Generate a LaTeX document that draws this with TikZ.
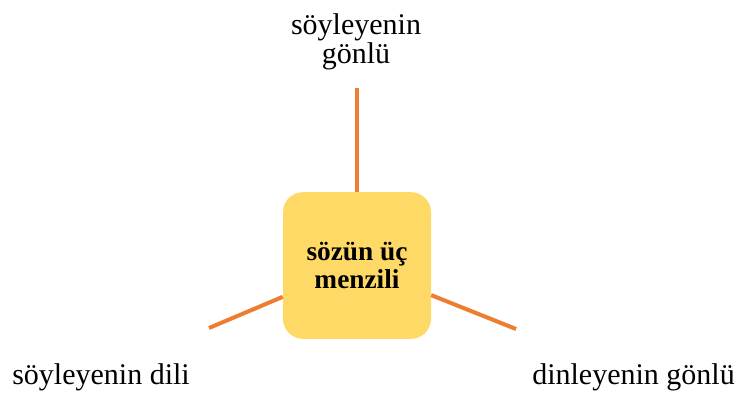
\documentclass[tikz,border=0pt]{standalone}
\usepackage{fontspec}
\setmainfont{Liberation Serif}
\usetikzlibrary{positioning}
\definecolor{menzilfill}{HTML}{FFD966}
\definecolor{linkorange}{HTML}{ED7D31}

\begin{document}
\begin{tikzpicture}[x=0.75pt,y=-0.75pt,
  label/.style={inner sep=0pt, font=\fontsize{22.5}{22}\selectfont, align=center},
  link/.style={draw=linkorange, line width=3pt}]
  \useasboundingbox (0,0) rectangle (738,398);

  \node[fill=menzilfill, rounded corners=15pt, minimum width=111pt, minimum height=110pt,
        align=center, font=\fontsize{20.5}{22.5}\selectfont\bfseries] (menzil) at (357,265.5) {\raisebox{-1.5pt}{sözün üç}\\menzili};

  \coordinate (ustuc) at (357,88);
  \coordinate (soluc) at (209,328);
  \coordinate (saguc) at (516,329);

  \draw[link] (menzil) -- (ustuc);
  \draw[link] (menzil) -- (soluc);
  \draw[link] (menzil) -- (saguc);

  \node[label, anchor=north] (gonul) at (356,13) {söyleyenin\\gönlü};
  \node[label, anchor=base west] (dil) at (12,385) {söyleyenin dili};
  \node[label, anchor=base east] (dinleyen) at (735,385) {dinleyenin gönlü};
\end{tikzpicture}
\end{document}
